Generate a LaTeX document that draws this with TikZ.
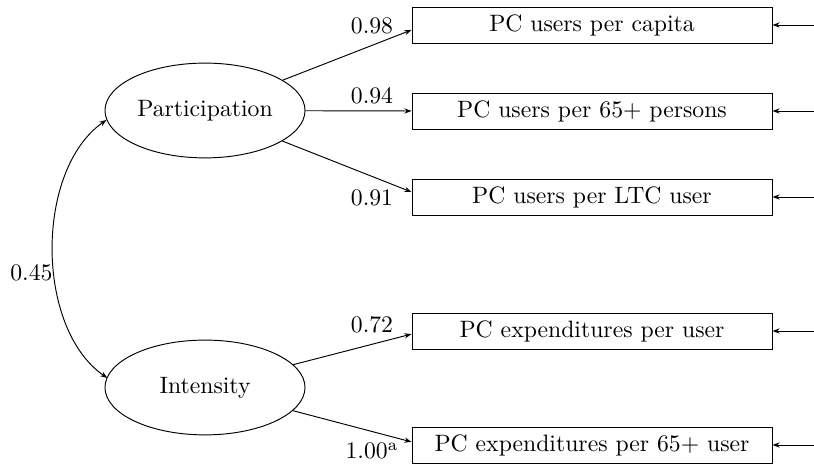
\documentclass[tikz,border=0pt]{standalone}
\usetikzlibrary{shapes.geometric,arrows.meta}
\begin{document}
\begin{tikzpicture}[x=0.4219pt,y=-0.4219pt,
  latent/.style={draw,ellipse,minimum width=84.4pt,minimum height=40pt,inner sep=0pt},
  indic/.style={draw,rectangle,minimum width=151.9pt,minimum height=15.2pt,inner sep=0pt},
  conn/.style={-{Stealth[length=3pt,width=2.2pt]}},
  lbl/.style={inner sep=0pt}]
\useasboundingbox (0,0) rectangle (814,468);
\node[latent] (P) at (205,110.5) {Participation};
\node[latent] (I) at (205,387.5) {Intensity};
\node[indic] (b1) at (592,25) {PC users per capita};
\node[indic] (b2) at (592,111) {PC users per 65+ persons};
\node[indic] (b3) at (592,197) {PC users per LTC user};
\node[indic] (b4) at (592,331) {PC expenditures per user};
\node[indic] (b5) at (592,445) {PC expenditures per 65+ user};
\coordinate (e1) at (814,25);
\coordinate (e2) at (814,111);
\coordinate (e3) at (814,197);
\coordinate (e4) at (814,331);
\coordinate (e5) at (814,445);
\foreach \i in {1,...,5} {\draw[conn] (e\i) -- (b\i.east);}
\draw[conn] (P) -- ([yshift=-2.1pt]b1.west);
\draw[conn] (P) -- (b2.west);
\draw[conn] (P) -- ([yshift=2.1pt]b3.west);
\draw[conn] (I) -- ([yshift=-1.3pt]b4.west);
\draw[conn] (I) -- ([yshift=1.3pt]b5.west);
\coordinate (c1) at (35,170);
\coordinate (c2) at (35,328);
\draw[{Stealth[length=3pt,width=2.2pt]}-{Stealth[length=3pt,width=2.2pt]}] ([xshift=0.8pt,yshift=-4pt]P.west) .. controls (c1) and (c2) .. ([xshift=1.2pt,yshift=4pt]I.west);
\node[lbl] (l1) at (372,26) {0.98};
\node[lbl] (l2) at (372,96) {0.94};
\node[lbl] (l3) at (372,198) {0.91};
\node[lbl] (l4) at (372,325) {0.72};
\node[lbl] (l5) at (372,451) {1.00\textsuperscript{a}};
\node[lbl,anchor=east] (l6) at (53,273) {0.45};
\end{tikzpicture}
\end{document}
